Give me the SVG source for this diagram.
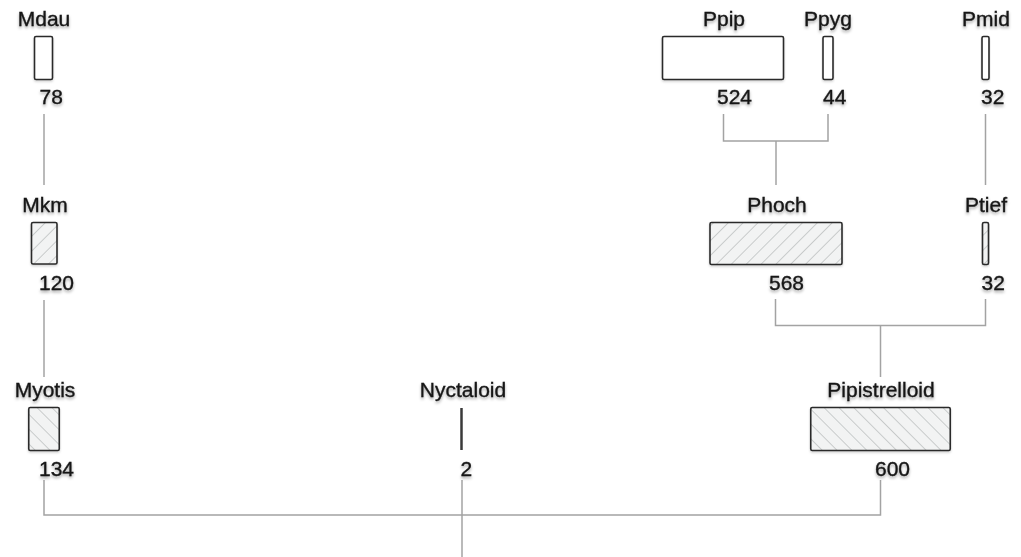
<svg xmlns="http://www.w3.org/2000/svg" width="1021" height="557" viewBox="0 0 1021 557">
  <defs>
    <!-- diagonal hatching: "/" for second tier, "\" for third tier -->
    <pattern id="hatch-fwd" patternUnits="userSpaceOnUse" width="10.5" height="10.5" patternTransform="rotate(45)">
      <rect width="10.5" height="10.5" fill="#f2f3f3"/>
      <line x1="0" y1="0" x2="0" y2="10.5" stroke="#adb1b1" stroke-width="1.2"/>
    </pattern>
    <pattern id="hatch-back" patternUnits="userSpaceOnUse" width="10.5" height="10.5" patternTransform="rotate(-45)">
      <rect width="10.5" height="10.5" fill="#f2f3f3"/>
      <line x1="0" y1="0" x2="0" y2="10.5" stroke="#adb1b1" stroke-width="1.2"/>
    </pattern>
    <filter id="txt-shadow" x="-20%" y="-40%" width="140%" height="180%">
      <feDropShadow dx="0" dy="2" stdDeviation="1.6" flood-color="#000" flood-opacity="0.35"/>
    </filter>
    <filter id="box-shadow" x="-20%" y="-20%" width="140%" height="150%">
      <feDropShadow dx="0" dy="1.5" stdDeviation="1.2" flood-color="#000" flood-opacity="0.18"/>
    </filter>
  </defs>
  <style>
    text { font-family: "Liberation Sans", Arial, Helvetica, sans-serif; font-size: 21px; fill: #151515; stroke: #151515; stroke-width: 0.35; filter: url(#txt-shadow); }
    .name { text-anchor: middle; }
    .count { text-anchor: start; }
    .box { stroke: #2a2a2a; stroke-width: 1.6; filter: url(#box-shadow); }
    .plain { fill: #ffffff; }
    .fwd { fill: url(#hatch-fwd); }
    .back { fill: url(#hatch-back); }
    .link { fill: none; stroke: #a3a3a3; stroke-width: 1.5; }
  </style>

  <rect width="1021" height="557" fill="#ffffff"/>

  <!-- tree branches -->
  <g id="connectors">
    <path class="link" d="M44 114 V185"/>
    <path class="link" d="M44 300 V377"/>
    <path class="link" d="M723.5 114 V141 H828 V114"/>
    <path class="link" d="M776 141 V185"/>
    <path class="link" d="M985.5 114 V185"/>
    <path class="link" d="M775.5 299 V325.5 H985.5 V299"/>
    <path class="link" d="M880.5 325.5 V377"/>
    <path class="link" d="M44 480 V515 H880.5 V480"/>
    <path class="link" d="M462 480 V557"/>
  </g>

  <!-- first tier -->
  <g id="node-mdau">
    <text class="name" x="44" y="26">Mdau</text>
    <rect class="box plain" x="34.5" y="36.5" width="18" height="43" rx="1.5"/>
    <text class="count" x="39.5" y="104">78</text>
  </g>
  <g id="node-ppip">
    <text class="name" x="724" y="26">Ppip</text>
    <rect class="box plain" x="662.5" y="36.5" width="121" height="43" rx="1.5"/>
    <text class="count" x="717" y="104">524</text>
  </g>
  <g id="node-ppyg">
    <text class="name" x="828" y="26">Ppyg</text>
    <rect class="box plain" x="823" y="36.5" width="10" height="43" rx="1.5"/>
    <text class="count" x="823" y="104">44</text>
  </g>
  <g id="node-pmid">
    <text class="name" x="986" y="26">Pmid</text>
    <rect class="box plain" x="982" y="36.5" width="7" height="43" rx="1.5"/>
    <text class="count" x="981" y="104">32</text>
  </g>

  <!-- second tier -->
  <g id="node-mkm">
    <text class="name" x="45" y="212">Mkm</text>
    <rect class="box fwd" x="31.5" y="222.5" width="25.5" height="41.5" rx="1.5"/>
    <text class="count" x="39" y="290">120</text>
  </g>
  <g id="node-phoch">
    <text class="name" x="777" y="212">Phoch</text>
    <rect class="box fwd" x="710" y="222.5" width="132" height="42" rx="1.5"/>
    <text class="count" x="769" y="290">568</text>
  </g>
  <g id="node-ptief">
    <text class="name" x="986" y="212">Ptief</text>
    <rect class="box fwd" x="982.5" y="222.5" width="6" height="42" rx="1.5"/>
    <text class="count" x="981.5" y="290">32</text>
  </g>

  <!-- third tier -->
  <g id="node-myotis">
    <text class="name" x="45" y="397">Myotis</text>
    <rect class="box back" x="28.75" y="407.5" width="30.5" height="43" rx="1.5"/>
    <text class="count" x="39" y="476">134</text>
  </g>
  <g id="node-nyctaloid">
    <text class="name" x="463" y="397">Nyctaloid</text>
    <line x1="461.5" y1="408" x2="461.5" y2="450" stroke="#3a3a3a" stroke-width="2.5"/>
    <text class="count" x="460.5" y="476">2</text>
  </g>
  <g id="node-pipistrelloid">
    <text class="name" x="881" y="397">Pipistrelloid</text>
    <rect class="box back" x="810.75" y="407.5" width="139.5" height="43" rx="1.5"/>
    <text class="count" x="875" y="476">600</text>
  </g>
</svg>
